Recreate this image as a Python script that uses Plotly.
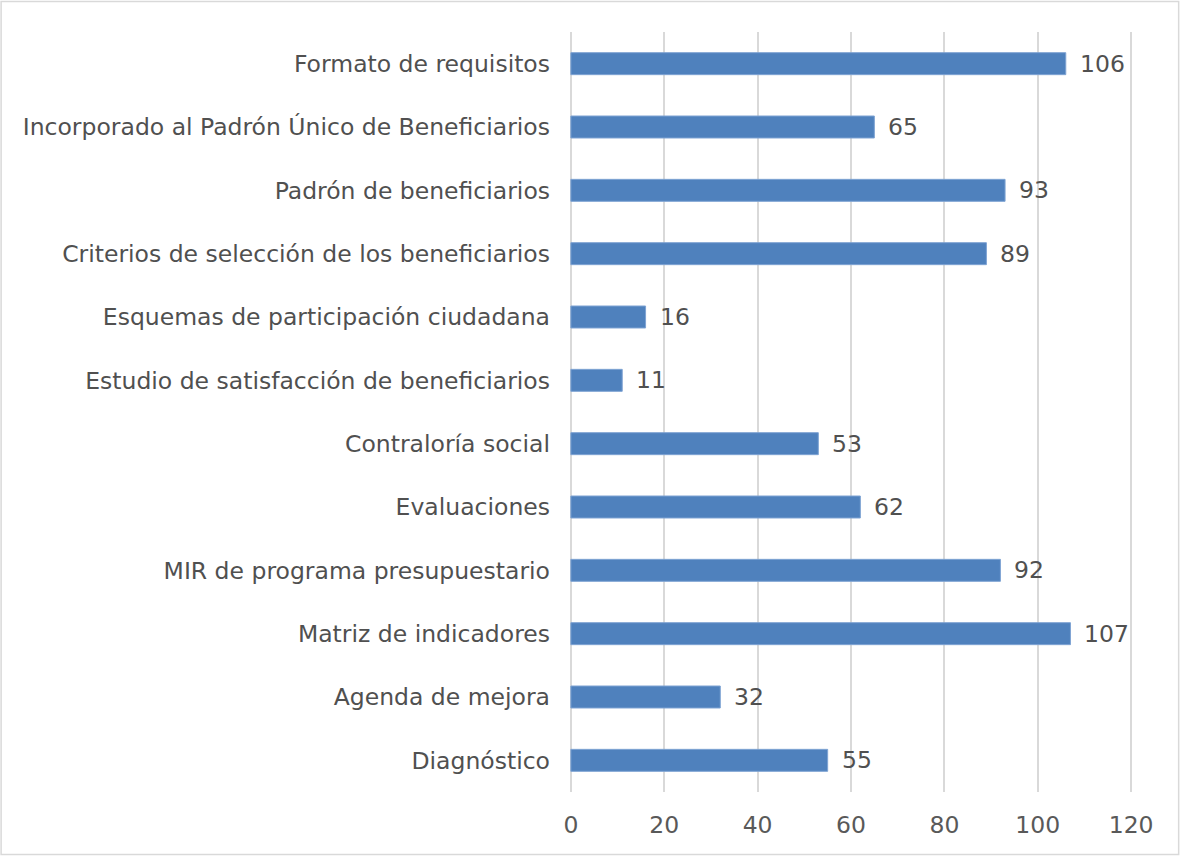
import plotly.graph_objects as go

categories = [
    "Formato de requisitos",
    "Incorporado al Padrón Único de Beneficiarios",
    "Padrón de beneficiarios",
    "Criterios de selección de los beneficiarios",
    "Esquemas de participación ciudadana",
    "Estudio de satisfacción de beneficiarios",
    "Contraloría social",
    "Evaluaciones",
    "MIR de programa presupuestario",
    "Matriz de indicadores",
    "Agenda de mejora",
    "Diagnóstico",
]
values = [106, 65, 93, 89, 16, 11, 53, 62, 92, 107, 32, 55]
x_ticks = [0, 20, 40, 60, 80, 100, 120]

W, H = 1180, 856
PAD = 0.4  # small range padding so edge gridlines are drawn
PXU = 560 / 120
L, R, T, B = 571 - PAD * PXU, 49 - PAD * PXU, 32, 64
FONT = "DejaVu Sans"
FS = 23.5
TXT = "#505050"

fig = go.Figure()
fig.add_trace(go.Bar(
    y=categories,
    x=values,
    orientation="h",
    marker=dict(color="#4f81bd", line=dict(color="#7ea3d3", width=1)),
    hoverinfo="x+y",
))

for c, v in zip(categories, values):
    fig.add_annotation(
        x=v, y=c, text=str(v), showarrow=False,
        xanchor="left", xshift=12,
        font=dict(family=FONT, size=FS, color=TXT),
    )

pw = W - L - R
ph = H - T - B
fig.add_shape(
    type="rect", xref="paper", yref="paper",
    x0=(1.5 - L) / pw, x1=(W - 1.5 - L) / pw,
    y0=-(B - 1.5) / ph,
    y1=1 + (T - 1.5) / ph,
    line=dict(color="#d9d9d9", width=1.5),
    layer="below",
)

fig.update_layout(
    width=W, height=H,
    margin=dict(l=L, r=R, t=T, b=B, pad=0),
    paper_bgcolor="white",
    plot_bgcolor="white",
    bargap=0.653,
    showlegend=False,
    font=dict(family=FONT, size=FS, color=TXT),
    xaxis=dict(
        range=[-PAD, 120 + PAD],
        tickvals=x_ticks,
        showgrid=True, gridcolor="#d9d9d9", gridwidth=2,
        zeroline=False,
        showline=False,
        ticks="",
        ticklabelstandoff=16,
        tickfont=dict(family=FONT, size=FS, color="#595959"),
        fixedrange=True,
    ),
    yaxis=dict(
        categoryorder="array",
        categoryarray=categories[::-1],
        showgrid=False,
        zeroline=False,
        showline=False,
        ticks="",
        ticklabelstandoff=18,
        tickfont=dict(family=FONT, size=FS, color=TXT),
        fixedrange=True,
    ),
)

fig.write_html(
    "out.html",
    config={"displayModeBar": False},
    post_script="document.body.style.margin='0';document.body.style.padding='0';",
)
